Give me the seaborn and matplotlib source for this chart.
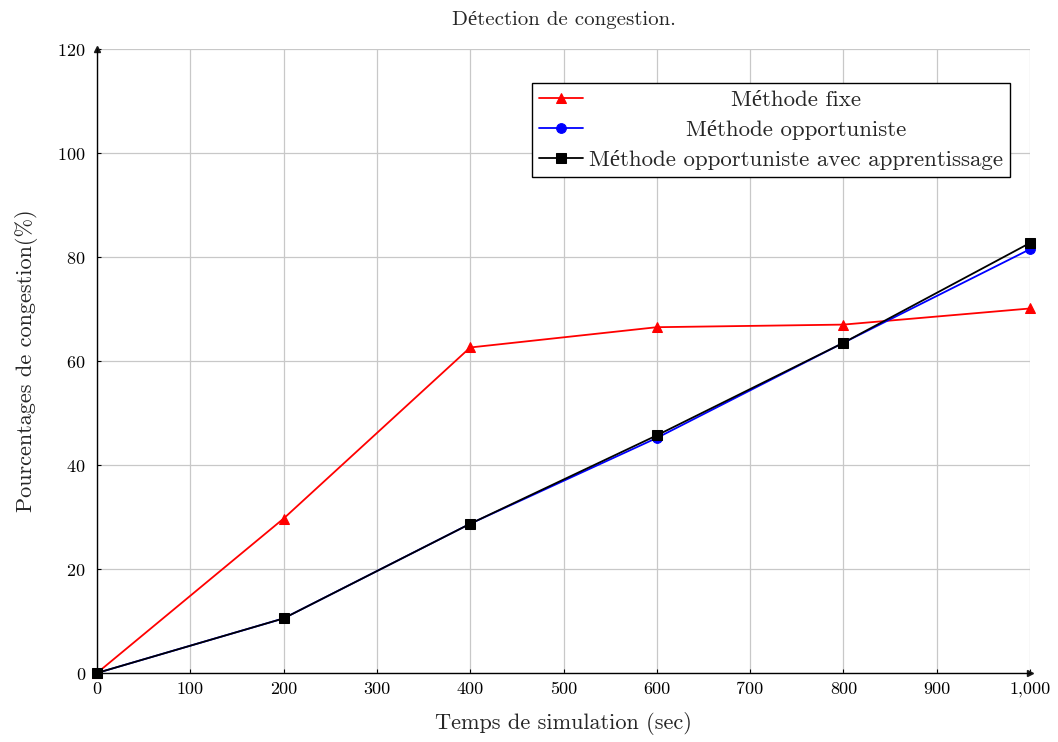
import matplotlib
matplotlib.use("Agg")
import matplotlib.pyplot as plt
import seaborn as sns
import pandas as pd
from matplotlib.ticker import FuncFormatter

x_vals = [0, 200, 400, 600, 800, 1000]
fixe = [0, 29.7, 62.6, 66.5, 67.0, 70.1]
opportuniste = [0, 10.5, 28.7, 45.2, 63.5, 81.5]
apprentissage = [0, 10.5, 28.7, 45.7, 63.5, 82.7]
labels = ["Méthode fixe", "Méthode opportuniste", "Méthode opportuniste avec apprentissage"]

sns.set_theme(style="white")
plt.rcParams["font.family"] = ["cmr10", "Liberation Serif"]
plt.rcParams["axes.formatter.use_mathtext"] = True

fig = plt.figure(figsize=(10.58, 7.42), dpi=100)
ax = fig.add_axes([97 / 1058, 1 - 673 / 742, (1030 - 97) / 1058, (673 - 49) / 742])

series = [(fixe, "red", "^", labels[0]),
          (opportuniste, "blue", "o", labels[1]),
          (apprentissage, "black", "s", labels[2])]
for vals, col, mk, lab in series:
    df = pd.DataFrame({"x": x_vals, "y": vals})
    sns.lineplot(data=df, x="x", y="y", ax=ax, color=col, marker=mk, markersize=7,
                 markeredgecolor=col, linewidth=1.3, label=lab, clip_on=False, zorder=3)

ax.set_xlim(0, 1000)
ax.set_ylim(0, 120)
ax.set_xticks(range(0, 1001, 100))
ax.set_yticks(range(0, 121, 20))
ax.xaxis.set_major_formatter(FuncFormatter(lambda v, p: f"{int(v):,}"))
ax.grid(True, color="#c8c8c8", linewidth=0.9)
ax.spines["top"].set_visible(False)
ax.spines["right"].set_visible(False)
for s in ["left", "bottom"]:
    ax.spines[s].set_color("black")
    ax.spines[s].set_linewidth(1.0)
ax.tick_params(axis="both", direction="in", length=3, width=0.8, colors="black",
               labelsize=13, bottom=True, left=True)
ax.tick_params(axis="y", pad=8)
ax.tick_params(axis="x", pad=6)
ax.plot(1, 0, ">k", transform=ax.transAxes, clip_on=False, markersize=4)
ax.plot(0, 1, "^k", transform=ax.transAxes, clip_on=False, markersize=4)

ax.set_xlabel("Temps de simulation (sec)", fontsize=16, labelpad=11)
ax.set_ylabel("Pourcentages de congestion(%)", fontsize=16, labelpad=14)
ax.set_title("Détection de congestion.", fontsize=15, pad=17)

leg = ax.legend(loc="upper right", bbox_to_anchor=(0.9786, 0.9455), fontsize=16.5,
                frameon=True, fancybox=False, edgecolor="black", framealpha=1,
                borderpad=0.32, labelspacing=0.42, handlelength=1.9, handletextpad=0.25,
                borderaxespad=0)
leg.get_frame().set_linewidth(1.0)

# center legend texts within the column
renderer = fig.canvas.get_renderer()
texts = leg.get_texts()
widths = [t.get_window_extent(renderer).width for t in texts]
wmax = max(widths)
for t, w in zip(texts, widths):
    t.set_x((wmax - w) / 2)

fig.savefig("out.png", dpi=100)
